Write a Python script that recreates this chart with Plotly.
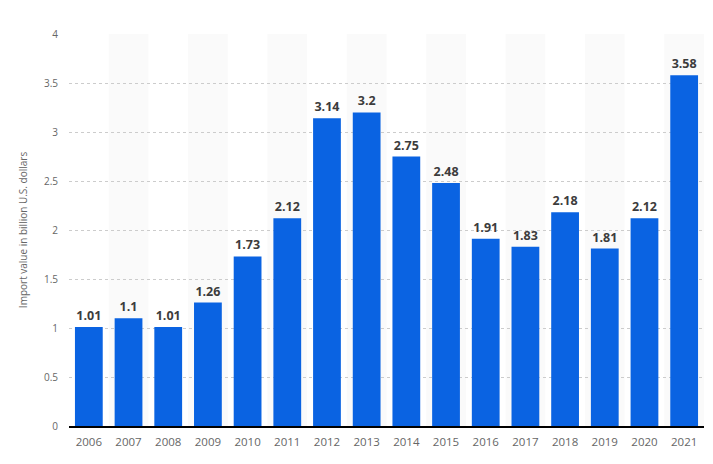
import plotly.graph_objects as go

years = ["2006", "2007", "2008", "2009", "2010", "2011", "2012", "2013",
         "2014", "2015", "2016", "2017", "2018", "2019", "2020", "2021"]
values = [1.01, 1.1, 1.01, 1.26, 1.73, 2.12, 3.14, 3.2,
          2.75, 2.48, 1.91, 1.83, 2.18, 1.81, 2.12, 3.58]
y_ticks = [0, 0.5, 1, 1.5, 2, 2.5, 3, 3.5, 4]
y_title = "Import value in billion U.S. dollars"

fig = go.Figure()
fig.add_trace(go.Bar(
    x=list(range(len(years))), y=values,
    marker=dict(color="#0a63e2", line=dict(width=0)),
    text=[f"<b>{v:g}</b>" for v in values],
    textposition="outside", cliponaxis=False,
    textfont=dict(family="Open Sans", size=12.5, color="#3c3c3c"),
    hoverinfo="skip",
))

shapes = []
for i in range(1, len(years), 2):
    shapes.append(dict(type="rect", xref="x", yref="y",
                       x0=i - 0.5, x1=i + 0.5, y0=0, y1=4,
                       fillcolor="#fafafa", line=dict(width=0), layer="below"))

fig.update_layout(
    width=697, height=448,
    margin=dict(l=61, r=1, t=26, b=30),
    paper_bgcolor="white", plot_bgcolor="white",
    bargap=0.3, showlegend=False,
    shapes=shapes,
    font=dict(family="Open Sans", color="#666666"),
    xaxis=dict(
        tickmode="array", tickvals=list(range(len(years))), ticktext=years,
        range=[-0.5, len(years) - 0.5],
        showgrid=False, zeroline=False,
        showline=True, linecolor="#000000", linewidth=1.5,
        ticks="", tickfont=dict(size=11.5, color="#666666"),
        ticklabelstandoff=4,
    ),
    yaxis=dict(
        range=[0, 4], tickvals=y_ticks,
        ticktext=[f"{t:g}" for t in y_ticks],
        showgrid=True, gridcolor="#cccccc", griddash="dot", gridwidth=1,
        zeroline=False, showline=False, ticks="",
        tickfont=dict(size=10, color="#666666"),
        ticklabelstandoff=10,
        title=dict(text=y_title, font=dict(size=10, color="#666666"), standoff=14),
    ),
)

fig.write_html("out.html")
